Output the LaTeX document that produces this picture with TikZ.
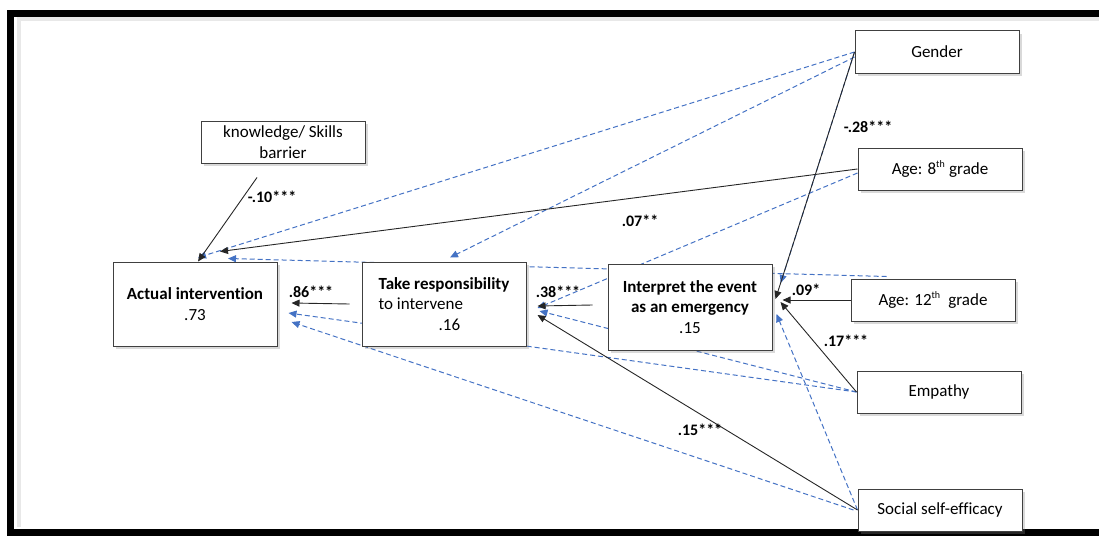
\documentclass[tikz,border=0pt]{standalone}
\usepackage{fontspec}
\setmainfont{Carlito}[Ligatures=NoCommon]
\usetikzlibrary{arrows.meta,calc,shadows,backgrounds}
\definecolor{pathblue}{HTML}{4472C4}
\newcommand{\ordsup}[1]{\textsuperscript{\fontsize{10}{10}\selectfont #1}}
\tikzset{
  box/.style={draw=black!75, fill=white, line width=1pt, minimum width=164pt,
    minimum height=42pt, inner sep=2pt, font=\fontsize{17}{20.4}\selectfont,
    drop shadow={shadow xshift=3pt, shadow yshift=-3pt, opacity=.3}},
  bigbox/.style={box, minimum height=84pt},
  lbl/.style={font=\fontsize{16}{19}\selectfont\bfseries},
  sig/.style={draw=black!85, line width=0.9pt, -{Triangle[length=8pt,width=7pt]}},
  ns/.style={draw=pathblue, line width=1pt, dash pattern=on 5pt off 3pt,
    -{Triangle[length=8pt,width=7pt]}}
}

\begin{document}
\begin{tikzpicture}[x=1pt, y=-1pt]
    % Page size
    \useasboundingbox (0,0) rectangle (1099,535);

    % Frame
    \draw[black!9, line width=4pt] (1099,19.5) -- (18.5,19.5) -- (18.5,527);
    \draw[line width=7pt] (1110,14) -- (10.5,14) -- (10.5,532.5) -- (1110,532.5);

    % Boxes
    \node[box, align=center] (know) at (283,142) {knowledge/ Skills\\barrier};
    \node[bigbox, align=center] (act) at (195,304) {\textbf{Actual intervention}\\.73};
    \node[bigbox, align=left] (resp) at (444,304) {\textbf{Take responsibility}\\to intervene\\\hspace*{60pt}.16};
    \node[bigbox, align=center, minimum height=86pt] (interp) at (690,307) {\textbf{Interpret the event}\\\textbf{as an emergency}\\.15};
    \node[box] (gender) at (937,52) {Gender};
    \node[box] (age8) at (940,169) {Age: 8\ordsup{th} grade};
    \node[box] (age12) at (933,300) {Age: 12\ordsup{th}\ \ grade};
    \node[box] (empathy) at (939,392) {Empathy};
    \node[box] (selfeff) at (940,510) {Social self-efficacy};

    \begin{pgfonlayer}{background}
    % Non-significant paths
    \draw[ns] (gender.west) -- ($(act.north)+(3,-4)$);
    \draw[ns] ($(gender.west)+(0,5)$) -- ($(resp.north)+(6,-4)$);
    \draw[ns] (gender.west) -- ($(interp.east)+(8.2,-24)$);
    \draw[ns] ($(age8.west)+(0,4)$) -- ($(resp.east)+(11,4)$);
    \draw[ns] ($(age12.north west)+(36,-2)$) -- ($(act.north)+(33,-3)$);
    \draw[ns] (empathy.west) -- ($(act.east)+(11,9)$);
    \draw[ns] (empathy.west) -- ($(resp.east)+(13,7)$);
    \draw[ns] ($(selfeff.west)+(-4,0)$) -- ($(act.east)+(14,18)$);
    \draw[ns] (selfeff.west) -- ($(interp.east)+(4,7)$);

    % Significant paths
    \draw[sig] ($(know.south)+(-26,14)$) -- ($(act.north)+(3,0)$);
    \draw[sig] (age8.west) -- ($(act.north)+(25,-10)$);
    \draw[sig] (gender.west) -- ($(interp.east)+(3,-8)$);
    \draw[sig] (age12.west) -- ($(interp.east)+(10,-7)$);
    \draw[sig] (empathy.west) -- ($(interp.east)+(8,-5)$);
    \draw[sig] (selfeff.west) -- ($(resp.east)+(11,11)$);
    \draw[sig] ($(interp.west)+(-15,-2)$) -- ($(resp.east)+(11,2)$);
    \draw[sig] ($(resp.west)+(-12,0)$) -- ($(act.east)+(14,-1)$);
    \end{pgfonlayer}

    % Path coefficients
    \node[lbl] (c10) at (272,197) {-.10***};
    \node[lbl] (c07) at (640,221) {.07**};
    \node[lbl] (c28) at (868,127) {-.28***};
    \node[lbl] (c09) at (806,290) {.09*};
    \node[lbl] (c17) at (846,341) {.17***};
    \node[lbl] (c15) at (700,430) {.15***};
    \node[lbl] (c38) at (558,292) {.38***};
    \node[lbl] (c86) at (311,292) {.86***};
\end{tikzpicture}
\end{document}
